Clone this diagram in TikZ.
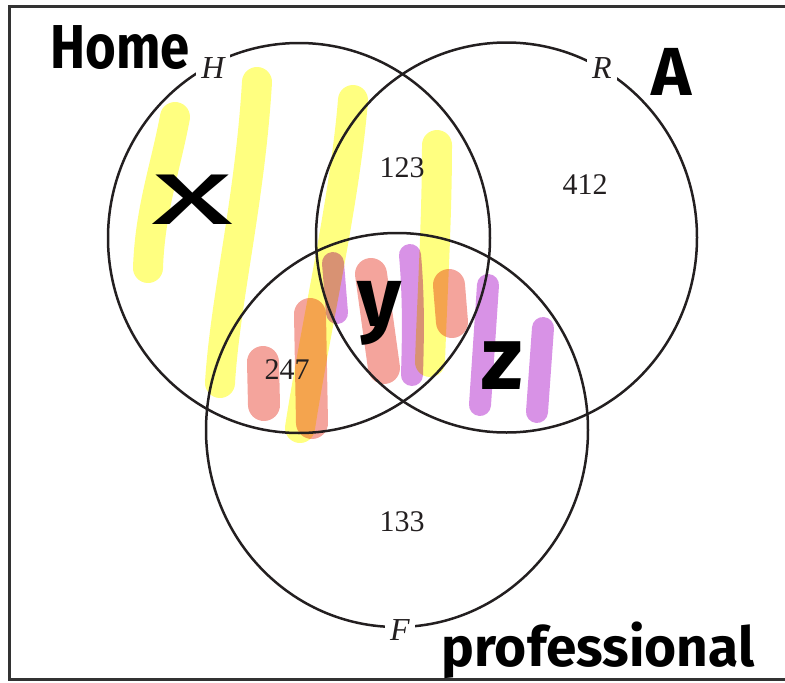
\documentclass[tikz,border=0pt]{standalone}
\usepackage{fontspec}
\usepackage{graphicx}
\setmainfont{Liberation Serif}
\newfontfamily\handfont{Fira Sans}
\definecolor{hlyellow}{HTML}{FFFF80}
\definecolor{hlsalmon}{HTML}{F4A49C}
\definecolor{hlpurple}{HTML}{D892E6}
\definecolor{ink}{HTML}{231F20}
\begin{document}
\begin{tikzpicture}[x=1pt,y=-1pt,
  hly/.style={draw=hlyellow,line width=30pt,line cap=round},
  hls/.style={draw=hlsalmon,line width=32pt,line cap=round},
  hlp/.style={draw=hlpurple,line width=22pt,line cap=round},
  setc/.style={draw=ink,line width=2.5pt},
  lab/.style={font=\fontsize{32}{32}\selectfont\itshape,text=ink,fill=white,inner sep=5pt},
  num/.style={font=\fontsize{30}{30}\selectfont,text=ink,inner sep=0pt},
  hand/.style={font=\handfont\bfseries,text=black,inner sep=0pt}]
\useasboundingbox (0,0) rectangle (785,683);
% frame
\draw[draw=black!80,line width=3pt] (790,6.5) -- (9,6.5) -- (9,679.5) -- (790,679.5);
% highlighter strokes
\begin{scope}[blend group=multiply]
\draw[hly] (175,117) .. controls (165,170) and (150,210) .. (148,268);
\draw[hly] (257,82) .. controls (250,200) and (225,300) .. (220,383);
\draw[hly] (353,100) .. controls (345,200) and (315,330) .. (300,428);
\draw[hly] (437,145) .. controls (437,220) and (432,300) .. (430,362);
\draw[hls] (263,362) -- (264,405);
\draw[hls] (310,314) -- (312,423);
\draw[hls] (371,274) -- (384,368);
\draw[hls] (449,285) -- (452,322);
\draw[hlp] (333,263) -- (337,313);
\draw[hlp] (410,255) .. controls (414,300) and (413,340) .. (412,375);
\draw[hlp] (488,285) -- (480,405);
\draw[hlp] (543,328) -- (537,412);
\end{scope}
% sets
\draw[setc] (299,238) ellipse [x radius=191, y radius=195];
\draw[setc] (506.5,237.5) ellipse [x radius=190.5, y radius=195];
\draw[setc] (397,430) ellipse [x radius=191, y radius=197];
% set labels
\node[lab] (lH) at (213,68) {H};
\node[lab] (lR) at (602,68) {R};
\node[lab] (lF) at (400,630) {F};
% counts
\node[num] (n123) at (402,168) {123};
\node[num] (n412) at (585,185) {412};
\node[num] (n247) at (287,370) {247};
\node[num] (n133) at (402,522) {133};
% handwriting
\node[hand,font=\handfont\bfseries\fontsize{62}{62}\selectfont] (home) at (120,48) {\scalebox{0.85}[1]{Home}};
\node[hand,font=\handfont\bfseries\fontsize{68}{68}\selectfont] (a) at (672,72) {A};
\node[hand,font=\handfont\fontsize{94}{94}\selectfont] (x) at (193,200) {\scalebox{1.8}[1]{x}};
\node[hand,font=\handfont\bfseries\fontsize{85}{85}\selectfont] (y) at (380,313) {y};
\node[hand,font=\handfont\bfseries\fontsize{90}{90}\selectfont] (z) at (502,366) {z};
\node[hand,font=\handfont\bfseries\fontsize{55}{55}\selectfont] (prof) at (598,650) {professional};
\end{tikzpicture}
\end{document}
